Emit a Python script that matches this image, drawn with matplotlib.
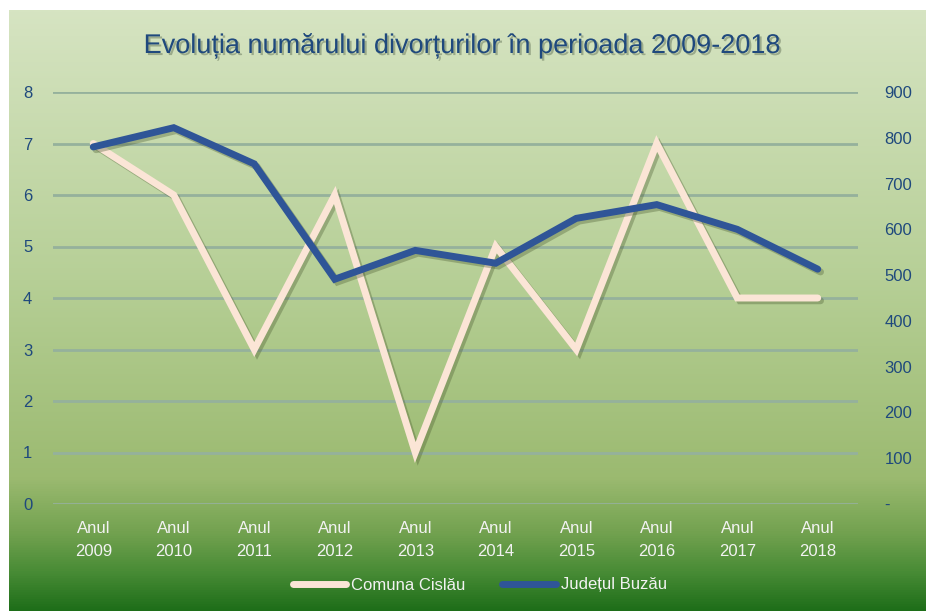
import matplotlib
matplotlib.use("Agg")
import matplotlib.pyplot as plt
import numpy as np
from matplotlib.colors import LinearSegmentedColormap
import matplotlib.patheffects as pe
from matplotlib.ticker import FixedLocator, FuncFormatter

categories = ["Anul\n2009", "Anul\n2010", "Anul\n2011", "Anul\n2012", "Anul\n2013",
              "Anul\n2014", "Anul\n2015", "Anul\n2016", "Anul\n2017", "Anul\n2018"]
cislau = [7, 6, 3, 6, 1, 5, 3, 7, 4, 4]
buzau = [780, 822, 743, 491, 554, 526, 624, 654, 600, 513]
left_ticks = [0, 1, 2, 3, 4, 5, 6, 7, 8]
right_ticks = [0, 100, 200, 300, 400, 500, 600, 700, 800, 900]
title = "Evoluția numărului divorțurilor în perioada 2009-2018"
series_names = ["Comuna Cislău", "Județul Buzău"]

FONT = ["Liberation Sans Narrow", "Liberation Sans", "DejaVu Sans"]
plt.rcParams['font.family'] = FONT

W, H = 926, 611
fig = plt.figure(figsize=(W / 100, H / 100), dpi=100)
fig.patch.set_facecolor("white")

# gradient background
bg = fig.add_axes([9 / W, 0, 1 - 9 / W, 1 - 10 / H])
bg.set_axis_off()
stops = [(0.0, (214/255, 228/255, 194/255)),
         (0.45, (182/255, 207/255, 150/255)),
         (0.78, (155/255, 186/255, 112/255)),
         (0.87, (115/255, 162/255, 80/255)),
         (0.94, (70/255, 138/255, 52/255)),
         (1.0, (30/255, 110/255, 25/255))]
cmap = LinearSegmentedColormap.from_list("g", stops)
grad = np.linspace(0, 1, 512).reshape(-1, 1)
bg.imshow(grad, aspect="auto", cmap=cmap, extent=[0, 1, 0, 1], origin="upper")
bg.set_xlim(0, 1)
bg.set_ylim(0, 1)

ax = fig.add_axes([53 / W, 1 - 504 / H, (858 - 53) / W, (504 - 92) / H])
ax.patch.set_alpha(0)
ax2 = ax.twinx()
ax2.patch.set_alpha(0)

x = np.arange(len(categories))
ax.set_xlim(-0.5, len(categories) - 0.5)
ax.set_ylim(0, 8)
ax2.set_ylim(0, 900)

for v in left_ticks:
    ax.axhline(v, color="#95b19c", lw=2, zorder=1)

shadow = [pe.SimpleLineShadow(offset=(2, -2), shadow_color="#4a5a30", alpha=0.35), pe.Normal()]
l1, = ax.plot(x, cislau, color="#fbe5d6", lw=5, solid_joinstyle="miter",
              solid_capstyle="round", zorder=3, path_effects=shadow, label=series_names[0])
l2, = ax2.plot(x, buzau, color="#2f5597", lw=5, solid_joinstyle="miter",
               solid_capstyle="round", zorder=4, path_effects=shadow, label=series_names[1])

for a in (ax, ax2):
    for s in a.spines.values():
        s.set_visible(False)

ax.yaxis.set_major_locator(FixedLocator(left_ticks))
ax.tick_params(axis="y", length=0, pad=15, labelsize=12, labelcolor="#1f497d")
ax2.yaxis.set_major_locator(FixedLocator(right_ticks))
ax2.yaxis.set_major_formatter(FuncFormatter(lambda v, p: "-" if v == 0 else f"{int(v)}"))
ax2.tick_params(axis="y", length=0, pad=19, labelsize=12, labelcolor="#1f497d")
ax.set_xticks(x)
ax.set_xticklabels(categories, linespacing=1.7)
ax.tick_params(axis="x", length=0, pad=12, labelsize=12, labelcolor="#f2f2f2")

fig.text(0.5, 1 - 46 / H, title, ha="center", va="center", fontsize=19.5,
         color="#1f497d",
         path_effects=[pe.withSimplePatchShadow(offset=(1.5, -1.5), shadow_rgbFace="#5a6a50", alpha=0.45)])

leg = fig.legend(handles=[l1, l2], loc="center", bbox_to_anchor=(480 / W, 1 - 585 / H),
                 ncol=2, frameon=False, fontsize=12, handlelength=3.2,
                 handletextpad=0.3, columnspacing=2.2, labelcolor="#f2f2f2")
for h in leg.get_lines():
    h.set_path_effects([])

fig.savefig("out.png", dpi=100)
